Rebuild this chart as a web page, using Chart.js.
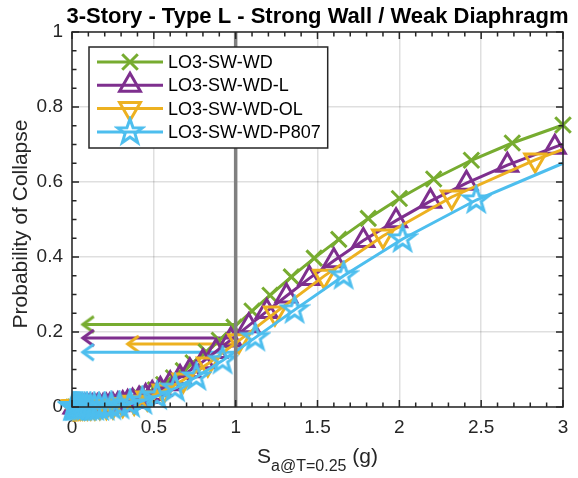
<!DOCTYPE html>
<html>
<head>
<meta charset="utf-8">
<script src="https://cdn.jsdelivr.net/npm/chart.js@4.4.1/dist/chart.umd.min.js"></script>
<style>
  html, body { margin: 0; padding: 0; background: #fff; }
  #wrap { width: 578px; height: 478px; }
</style>
</head>
<body>
<div id="wrap"><canvas id="fragility"></canvas></div>
<script>
// collapse fragility curves
const chartTitle = '3-Story - Type L - Strong Wall / Weak Diaphragm';
const yTitle = 'Probability of Collapse';
const seriesNames = ['LO3-SW-WD', 'LO3-SW-WD-L', 'LO3-SW-WD-OL', 'LO3-SW-WD-P807'];

const saWD = [0.01, 0.02, 0.03, 0.04, 0.05, 0.06, 0.07, 0.08, 0.09, 0.10, 0.11, 0.12, 0.135, 0.15, 0.165,
  0.18, 0.20, 0.22, 0.24, 0.26, 0.29, 0.32, 0.35, 0.38, 0.42, 0.46, 0.51, 0.56, 0.62, 0.68, 0.74, 0.82,
  0.90, 0.99, 1.10, 1.21, 1.34, 1.48, 1.63, 1.81, 2.00, 2.21, 2.44, 2.69, 3.00];
const pWD = [0, 0, 0, 0, 0, 0, 0, 0, 0, 0, 0, 0.0002, 0.0003, 0.0005, 0.0007,
  0.0011, 0.0017, 0.0026, 0.0036, 0.0049, 0.0075, 0.011, 0.015, 0.019, 0.026, 0.034, 0.046, 0.060, 0.078, 0.097, 0.118, 0.147,
  0.178, 0.213, 0.256, 0.298, 0.347, 0.397, 0.447, 0.503, 0.556, 0.608, 0.658, 0.704, 0.752];

const saWDL = [0.015, 0.025, 0.035, 0.045, 0.055, 0.065, 0.075, 0.085, 0.095, 0.105, 0.115, 0.125, 0.14, 0.155, 0.17,
  0.19, 0.21, 0.23, 0.25, 0.28, 0.31, 0.34, 0.37, 0.41, 0.45, 0.49, 0.54, 0.60, 0.66, 0.72, 0.80, 0.88,
  0.97, 1.08, 1.19, 1.31, 1.45, 1.60, 1.78, 1.98, 2.19, 2.41, 2.66, 2.95, 3.00];
const pWDL = [0, 0, 0, 0, 0, 0, 0, 0, 0, 0, 0, 0.0002, 0.0003, 0.0005, 0.0008,
  0.0013, 0.002, 0.0028, 0.0039, 0.006, 0.0087, 0.0117, 0.0155, 0.021, 0.028, 0.036, 0.047, 0.062, 0.079, 0.097, 0.121, 0.148,
  0.179, 0.217, 0.255, 0.296, 0.343, 0.390, 0.444, 0.497, 0.549, 0.597, 0.645, 0.693, 0.701];

const saWDOL = [0.005, 0.008, 0.012, 0.015, 0.019, 0.023, 0.028, 0.035, 0.042, 0.052, 0.063, 0.077, 0.094, 0.115, 0.14,
  0.17, 0.21, 0.25, 0.31, 0.38, 0.46, 0.56, 0.68, 0.83, 1.02, 1.24, 1.54, 1.90, 2.32, 2.83, 3.00];
const pWDOL = [0, 0, 0, 0, 0, 0, 0, 0, 0, 0, 0, 0, 0, 0, 0,
  0.0005, 0.0013, 0.0028, 0.0064, 0.013, 0.024, 0.043, 0.072, 0.115, 0.177, 0.251, 0.349, 0.456, 0.560, 0.659, 0.687];

const saWDP = [0.005, 0.01, 0.016, 0.02, 0.024, 0.029, 0.035, 0.043, 0.052, 0.063, 0.076, 0.092, 0.112, 0.136, 0.165,
  0.20, 0.24, 0.29, 0.355, 0.43, 0.52, 0.63, 0.76, 0.92, 1.12, 1.36, 1.66, 2.02, 2.47, 3.00];
const pWDP = [0, 0, 0, 0, 0, 0, 0, 0, 0, 0, 0, 0, 0, 0, 0,
  0.0008, 0.0019, 0.0039, 0.0084, 0.016, 0.029, 0.050, 0.080, 0.124, 0.185, 0.259, 0.350, 0.448, 0.552, 0.650];

// collapse probability at Sa = 1 g, arrows pointing to the axis
const arrowP = [0.22, 0.184, 0.168, 0.146];
const arrowFrom = [1.0, 1.0, 1.03, 1.02];
const arrowTo = [0.066, 0.066, 0.34, 0.066];

const saRef = 1;
const xTicks = [0, 0.5, 1, 1.5, 2, 2.5, 3];
const yTicks = [0, 0.2, 0.4, 0.6, 0.8, 1];

const fam = '"Liberation Sans", Arial, Helvetica, sans-serif';
const ink = '#262626';
const colors = ['#77AC30', '#7E2F8E', '#EDB120', '#4DBEEE'];
const endMarker = [true, false, false, false];
const lw = 3;

function makeStar(color) {
  const c = document.createElement('canvas');
  c.width = c.height = 32;
  const g = c.getContext('2d');
  g.strokeStyle = color;
  g.lineWidth = 3;
  g.lineJoin = 'miter';
  g.beginPath();
  for (let i = 0; i < 10; i++) {
    const r = i % 2 ? 5.2 : 13;
    const a = -Math.PI / 2 + i * Math.PI / 5;
    const px = 16 + r * Math.cos(a), py = 16 + r * Math.sin(a);
    if (i) g.lineTo(px, py); else g.moveTo(px, py);
  }
  g.closePath();
  g.stroke();
  return c;
}

function makeArrow(color) {
  const c = document.createElement('canvas');
  c.width = c.height = 28;
  const g = c.getContext('2d');
  g.strokeStyle = color;
  g.lineWidth = 3;
  g.beginPath();
  g.moveTo(25, 6);
  g.lineTo(14, 14);
  g.lineTo(25, 22);
  g.stroke();
  return c;
}

const markers = ['crossRot', 'triangle', 'triangle', makeStar(colors[3])];
const markerRadius = [11, 12, 12, 6];
const xs = [saWD, saWDL, saWDOL, saWDP];
const ps = [pWD, pWDL, pWDOL, pWDP];

const curves = seriesNames.map((name, i) => ({
  label: name,
  inLegend: true,
  data: xs[i].map((x, j) => ({ x: x, y: ps[i][j] })),
  borderColor: colors[i],
  backgroundColor: 'rgba(0,0,0,0)',
  borderWidth: lw,
  pointStyle: markers[i],
  pointRotation: i === 2 ? 180 : 0,
  pointRadius: ctx => (ctx.dataIndex === xs[i].length - 1 && !endMarker[i]) ? 0 : markerRadius[i],
  pointBorderWidth: lw,
  pointBorderColor: colors[i],
  pointBackgroundColor: 'rgba(0,0,0,0)',
  tension: 0,
  clip: false,
  order: 4 - i
}));

const arrows = arrowP.map((p, i) => ({
  label: seriesNames[i] + ' @ 1g',
  data: [{ x: arrowFrom[i], y: p }, { x: arrowTo[i], y: p }],
  borderColor: colors[i],
  borderWidth: lw,
  pointStyle: makeArrow(colors[i]),
  pointRadius: [0, 5],
  tension: 0,
  clip: false,
  order: 8 - i
}));

const refLine = {
  label: 'Sa = 1g',
  data: [{ x: saRef, y: 0 }, { x: saRef, y: 1 }],
  borderColor: '#808080',
  borderWidth: 3.5,
  pointRadius: 0,
  clip: false,
  order: 0
};

function drawLegend(chart) {
  const ctx = chart.ctx;
  const items = chart.data.datasets.filter(d => d.inLegend);
  ctx.save();
  ctx.font = '18px ' + fam;
  const textW = Math.max(...items.map(d => ctx.measureText(d.label).width));
  const left = 89, top = 47, bottom = 148, textX = 168;
  const right = textX + textW + 7;
  ctx.fillStyle = '#fff';
  ctx.fillRect(left, top, right - left, bottom - top);
  ctx.strokeStyle = ink;
  ctx.lineWidth = 1.5;
  ctx.strokeRect(left, top, right - left, bottom - top);
  items.forEach((d, i) => {
    const cy = 62 + i * 23.3;
    ctx.strokeStyle = d.borderColor;
    ctx.lineWidth = d.borderWidth;
    ctx.beginPath();
    ctx.moveTo(97, cy);
    ctx.lineTo(163, cy);
    ctx.stroke();
    ctx.fillStyle = 'rgba(0,0,0,0)';
    if (Chart.helpers && Chart.helpers.drawPoint) {
      Chart.helpers.drawPoint(ctx, {
        pointStyle: d.pointStyle,
        rotation: d.pointRotation,
        radius: markerRadius[i],
        borderWidth: d.pointBorderWidth
      }, 130, cy);
    }
    ctx.fillStyle = '#000';
    ctx.textAlign = 'left';
    ctx.textBaseline = 'middle';
    ctx.fillText(d.label, textX, cy + 1);
  });
  ctx.restore();
}

const frame = {
  id: 'frame',
  afterDatasetsDraw(chart) {
    const { ctx, chartArea: a, scales: { x, y } } = chart;
    ctx.save();
    ctx.strokeStyle = ink;
    ctx.lineWidth = 1.5;
    ctx.beginPath();
    for (let k = 0; k <= 30; k++) {
      const px = x.getPixelForValue(k / 10);
      const len = k % 5 === 0 ? 7 : 4.5;
      ctx.moveTo(px, a.bottom); ctx.lineTo(px, a.bottom - len);
      ctx.moveTo(px, a.top); ctx.lineTo(px, a.top + len);
    }
    for (let k = 0; k <= 20; k++) {
      const py = y.getPixelForValue(k / 20);
      const len = k % 4 === 0 ? 7 : 4.5;
      ctx.moveTo(a.left, py); ctx.lineTo(a.left + len, py);
      ctx.moveTo(a.right, py); ctx.lineTo(a.right - len, py);
    }
    ctx.stroke();
    ctx.strokeRect(a.left, a.top, a.right - a.left, a.bottom - a.top);
    ctx.restore();
    drawLegend(chart);
  },
  afterDraw(chart) {
    const { ctx, chartArea: a } = chart;
    const cx = (a.left + a.right) / 2;
    ctx.save();
    ctx.fillStyle = '#000';
    ctx.textAlign = 'center';
    ctx.textBaseline = 'alphabetic';
    ctx.font = 'bold 22px ' + fam;
    ctx.fillText(chartTitle, cx, 23);

    ctx.fillStyle = ink;
    ctx.textAlign = 'left';
    ctx.font = '21px ' + fam;
    const wS = ctx.measureText('S').width;
    const wG = ctx.measureText(' (g)').width;
    ctx.font = '16px ' + fam;
    const wSub = ctx.measureText('a@T=0.25').width;
    let x0 = cx - (wS + wSub + wG) / 2;
    ctx.font = '21px ' + fam;
    ctx.fillText('S', x0, 463);
    ctx.font = '16px ' + fam;
    ctx.fillText('a@T=0.25', x0 + wS, 471);
    ctx.font = '21px ' + fam;
    ctx.fillText(' (g)', x0 + wS + wSub, 463);

    ctx.translate(21, 224);
    ctx.rotate(-Math.PI / 2);
    ctx.textAlign = 'center';
    ctx.textBaseline = 'middle';
    ctx.fillText(yTitle, 0, 0);
    ctx.restore();
  }
};

const gridColor = 'rgba(38,38,38,0.15)';

new Chart(document.getElementById('fragility'), {
  type: 'line',
  data: { datasets: [refLine, ...curves, ...arrows] },
  options: {
    responsive: true,
    maintainAspectRatio: false,
    animation: false,
    events: [],
    layout: { padding: { left: 0, top: 32, right: 7, bottom: 0 } },
    plugins: { legend: { display: false }, tooltip: { enabled: false }, title: { display: false } },
    scales: {
      x: {
        type: 'linear', min: 0, max: 3,
        afterBuildTicks: s => { s.ticks = xTicks.map(v => ({ value: v })); },
        afterFit: s => { s.height = 71; },
        grid: { color: gridColor, lineWidth: 1.5, drawTicks: false },
        border: { display: false },
        ticks: { font: { family: fam, size: 19 }, color: ink, padding: 9, maxRotation: 0, autoSkip: false,
          callback: v => String(v) }
      },
      y: {
        type: 'linear', min: 0, max: 1,
        afterBuildTicks: s => { s.ticks = yTicks.map(v => ({ value: v })); },
        afterFit: s => { s.width = 72; },
        grid: { color: gridColor, lineWidth: 1.5, drawTicks: false },
        border: { display: false },
        ticks: { font: { family: fam, size: 19 }, color: ink, padding: 9, autoSkip: false,
          callback: v => String(v) }
      }
    }
  },
  plugins: [frame]
});
</script>
</body>
</html>
